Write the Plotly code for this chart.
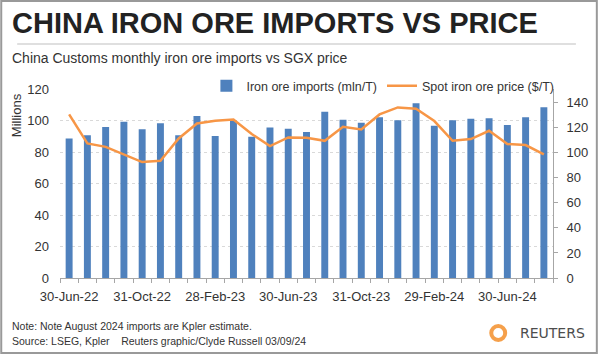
import plotly.graph_objects as go

months = ["30-Jun-22", "31-Jul-22", "31-Aug-22", "30-Sep-22", "31-Oct-22", "30-Nov-22",
          "31-Dec-22", "31-Jan-23", "28-Feb-23", "31-Mar-23", "30-Apr-23", "31-May-23",
          "30-Jun-23", "31-Jul-23", "31-Aug-23", "30-Sep-23", "31-Oct-23", "30-Nov-23",
          "31-Dec-23", "31-Jan-24", "29-Feb-24", "31-Mar-24", "30-Apr-24", "31-May-24",
          "30-Jun-24", "31-Jul-24", "31-Aug-24"]
imports = [88.5, 90.6, 95.8, 99.2, 94.4, 98.2, 90.6, 102.8, 90.1, 99.8, 89.7, 95.6,
           94.8, 92.7, 105.6, 100.5, 98.6, 102.0, 100.1, 110.9, 96.7, 100.1, 101.1, 101.4,
           97.1, 102.0, 108.4]
price = [130.7, 107.5, 104.8, 99.0, 92.6, 93.6, 111.5, 123.5, 125.6, 126.7, 115.0, 105.4,
         112.3, 112.0, 109.6, 120.8, 118.7, 130.7, 136.3, 135.2, 125.4, 109.6, 111.0, 117.6,
         107.0, 106.2, 98.7]
left_ticks = [0, 20, 40, 60, 80, 100, 120]
right_ticks = [0, 20, 40, 60, 80, 100, 120, 140]
label_idx = list(range(0, len(months), 4))

W, H = 600, 354
L, R, T, B = 60, 45, 89, 76
FONT = "Liberation Sans, Arial, Helvetica, sans-serif"

def px(x):
    return (x - L) / (W - L - R)

def py(y):
    return (H - B - y) / (H - T - B)

idx = list(range(len(months)))

fig = go.Figure()
fig.add_trace(go.Bar(x=idx, y=imports, name="Iron ore imports (mln/T)",
                     marker=dict(color="#4F81BD", line=dict(width=0))))
fig.add_trace(go.Scatter(x=idx, y=price, name="Spot iron ore price ($/T)", yaxis="y2",
                         mode="lines", line=dict(color="#F79646", width=2.5)))

fig.update_layout(
    width=W, height=H,
    margin=dict(l=L, r=R, t=T, b=B),
    paper_bgcolor="white", plot_bgcolor="white",
    font=dict(family=FONT, size=13, color="#333333"),
    bargap=0.62,
    showlegend=True,
    legend=dict(orientation="h", x=px(207), xanchor="left", y=py(86), yanchor="middle",
                font=dict(size=12.5, color="#333333"), bgcolor="rgba(0,0,0,0)",
                itemwidth=30, tracegroupgap=0),
    xaxis=dict(range=[-0.5, len(months) - 0.5], tickmode="array",
               tickvals=label_idx, ticktext=[months[i] for i in label_idx],
               ticks="", showline=True, linecolor="#a6a6a6", linewidth=1,
               showgrid=False, zeroline=False, tickfont=dict(size=13, color="#333333"),
               ticklabelstandoff=6,
               minor=dict(tickmode="array", tickvals=[i - 0.5 for i in range(len(months) + 1)],
                          ticks="outside", ticklen=4, tickcolor="#a6a6a6", tickwidth=1,
                          showgrid=False)),
    yaxis=dict(range=[0, 120], tickmode="array", tickvals=left_ticks,
               showgrid=True, gridcolor="#d9d9d9", griddash="dot", gridwidth=1,
               zeroline=False, showline=False, ticks="", ticklabelstandoff=10,
               tickfont=dict(size=13, color="#333333")),
    yaxis2=dict(range=[0, 151], overlaying="y", side="right", tickmode="array",
                tickvals=right_ticks, showgrid=False, zeroline=False,
                showline=True, linecolor="#a6a6a6", linewidth=1,
                ticks="outside", ticklen=4, tickcolor="#a6a6a6",
                ticklabelstandoff=6, tickfont=dict(size=13, color="#333333")),
)

annotations = [
    dict(text="<b>CHINA IRON ORE IMPORTS VS PRICE</b>", x=px(10), y=py(23), xanchor="left",
         yanchor="middle", font=dict(size=29, color="#222222")),
    dict(text="China Customs monthly iron ore imports vs SGX price", x=px(10), y=py(58),
         xanchor="left", yanchor="middle", font=dict(size=14, color="#333333")),
    dict(text="Millions", x=px(16), y=py(115), textangle=-90, xanchor="center",
         yanchor="middle", font=dict(size=13, color="#333333")),
    dict(text="Note: Note August 2024 imports are Kpler estimate.", x=px(10), y=py(326),
         xanchor="left", yanchor="middle", font=dict(size=10.5, color="#333333")),
    dict(text="Source: LSEG, Kpler &nbsp;&nbsp; Reuters graphic/Clyde Russell 03/09/24",
         x=px(10), y=py(341), xanchor="left", yanchor="middle",
         font=dict(size=10.5, color="#333333")),
    dict(text="REUTERS", x=px(520), y=py(333), xanchor="left", yanchor="middle",
         font=dict(size=14, color="#4d4d4d", family="DejaVu Sans, Liberation Sans")),
]
for a in annotations:
    a.update(xref="paper", yref="paper", showarrow=False)
fig.update_layout(annotations=annotations)

shapes = [
    dict(type="line", x0=px(17), x1=px(578), y0=py(44), y1=py(44),
         line=dict(color="#bfbfbf", width=1)),
    dict(type="rect", x0=px(1), x1=px(599), y0=py(353), y1=py(1),
         line=dict(color="#999999", width=2)),
    dict(type="circle", x0=px(493), x1=px(507), y0=py(340), y1=py(326),
         line=dict(color="#F5A04B", width=4), fillcolor="rgba(0,0,0,0)"),
]
for s in shapes:
    s.update(xref="paper", yref="paper", layer="above")
fig.update_layout(shapes=shapes)

fig.write_html("out.html")
